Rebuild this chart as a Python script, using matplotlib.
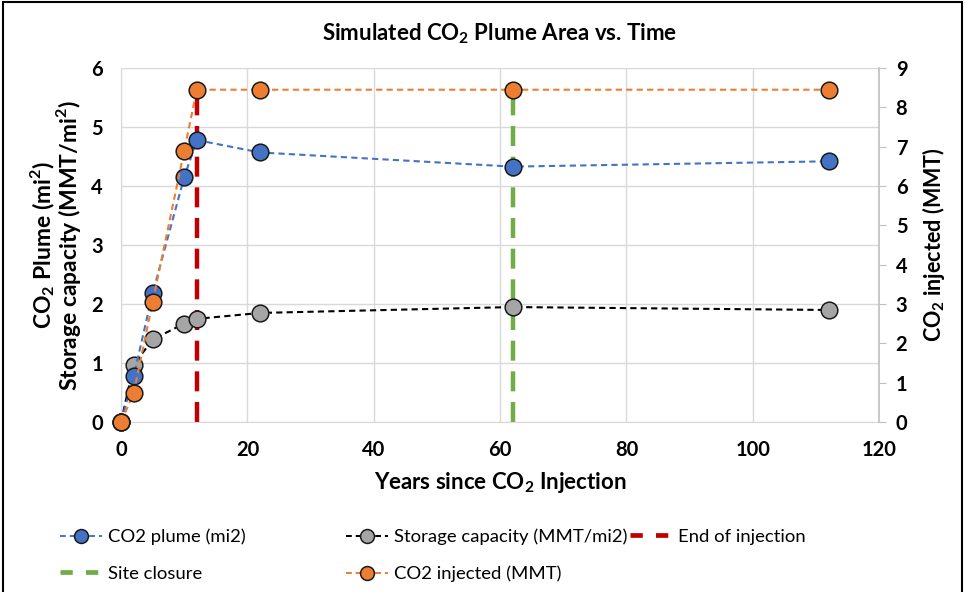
import matplotlib
matplotlib.use("Agg")
import matplotlib.pyplot as plt
from matplotlib.lines import Line2D
from matplotlib.patches import Rectangle

plt.rcParams['font.family'] = ['Lato', 'DejaVu Sans']
plt.rcParams['mathtext.fontset'] = 'custom'
plt.rcParams['mathtext.rm'] = 'Lato'
plt.rcParams['mathtext.bf'] = 'Lato:bold'

# data
years = [0, 2, 5, 10, 12, 22, 62, 112]
plume_mi2 = [0, 0.78, 2.18, 4.15, 4.78, 4.57, 4.33, 4.42]
storage_capacity = [0, 0.97, 1.40, 1.67, 1.75, 1.85, 1.95, 1.90]
co2_injected = [0, 0.74, 3.05, 6.90, 8.45, 8.45, 8.45, 8.45]
end_of_injection = 12
site_closure = 62

left_ticks = [0, 1, 2, 3, 4, 5, 6]
right_ticks = [0, 1, 2, 3, 4, 5, 6, 7, 8, 9]
x_ticks = [0, 20, 40, 60, 80, 100, 120]

fig = plt.figure(figsize=(9.66, 5.92), dpi=100)
ax = fig.add_axes([0.1253, 0.287, 0.7847, 0.598])
ax2 = ax.twinx()

grid_c = '#d9d9d9'
ax.set_xlim(0, 120)
ax.set_ylim(0, 6)
ax2.set_ylim(0, 9)
ax.set_xticks(x_ticks)
ax.set_yticks(left_ticks)
ax2.set_yticks(right_ticks)
ax.grid(True, color=grid_c, lw=1)
ax.set_axisbelow(True)

ax.spines['top'].set_visible(False)
ax2.spines['top'].set_visible(False)
for s in ['left', 'bottom']:
    ax.spines[s].set_color(grid_c)
    ax2.spines[s].set_visible(False)
ax.spines['right'].set_visible(False)
ax2.spines['right'].set_color('#bfbfbf')
ax2.spines['right'].set_linewidth(1.2)

ax.tick_params(axis='x', length=0, labelsize=14.5, pad=13)
ax.tick_params(axis='y', length=0, labelsize=14.5, pad=13)
ax2.tick_params(axis='y', length=5, color='#bfbfbf', labelsize=14.5, pad=7)
for lab in ax.get_xticklabels() + ax.get_yticklabels() + ax2.get_yticklabels():
    lab.set_fontweight('bold')

mk = dict(marker='o', markersize=12, markeredgecolor='#1a1a1a', markeredgewidth=1.1)

# vertical markers, drawn on the left axis scaled to the injected total
scale = ax.get_ylim()[1] / ax2.get_ylim()[1]
top = max(co2_injected) * scale
ax.plot([end_of_injection, end_of_injection], [0, top], color='#c00000', lw=3.2,
        dashes=(4.5, 2.4), zorder=2)
ax.plot([site_closure, site_closure], [0, top], color='#70ad47', lw=3.2,
        dashes=(4.5, 2.4), zorder=2)

ax.plot(years, storage_capacity, color='black', lw=1.5, dashes=(3, 2),
        markerfacecolor='#a5a5a5', zorder=3, **mk)
ax.plot(years, plume_mi2, color='#4472c4', lw=1.5, dashes=(3, 2),
        markerfacecolor='#4472c4', zorder=4, **mk)
ax2.plot(years, co2_injected, color='#ed7d31', lw=1.5, dashes=(3, 2),
         markerfacecolor='#ed7d31', clip_on=False, zorder=3, **mk)
for l in ax.lines:
    l.set_clip_on(False)

ax.set_title(r'Simulated CO$_\mathbf{2}$ Plume Area vs. Time', fontsize=16,
             fontweight='bold', pad=20)
ax.set_xlabel(r'Years since CO$_\mathbf{2}$ Injection', fontsize=16,
              fontweight='bold', labelpad=7)
ax.set_ylabel('CO$_\\mathbf{2}$ Plume (mi$^\\mathbf{2}$)\nStorage capacity (MMT/mi$^\\mathbf{2}$)',
              fontsize=16.5, fontweight='bold', labelpad=6, linespacing=0.88)
ax2.set_ylabel(r'CO$_\mathbf{2}$ injected (MMT)', fontsize=15.5, fontweight='bold',
               labelpad=9)

# legend as three columns like the original layout
lmk = dict(marker='o', markersize=10, markeredgecolor='#1a1a1a', markeredgewidth=1.1)
h_plume = Line2D([], [], color='#4472c4', lw=1.4, dashes=(3, 2), markerfacecolor='#4472c4', **lmk)
h_store = Line2D([], [], color='black', lw=1.4, dashes=(3, 2), markerfacecolor='#a5a5a5', **lmk)
h_inj = Line2D([], [], color='#ed7d31', lw=1.4, dashes=(3, 2), markerfacecolor='#ed7d31', **lmk)
h_end = Line2D([], [], color='#c00000', lw=3.4, dashes=(2.6, 2.8))
h_site = Line2D([], [], color='#70ad47', lw=3.4, dashes=(2.6, 2.8))

leg_kw = dict(frameon=False, fontsize=13.3, handlelength=2.3, handletextpad=0.3,
              labelspacing=1.12, loc='upper left', borderaxespad=0, borderpad=0)
legs = [
    ([h_plume, h_site], ['CO2 plume (mi2)', 'Site closure'], 0.062),
    ([h_store, h_inj], ['Storage capacity (MMT/mi2)', 'CO2 injected (MMT)'], 0.358),
    ([h_end], ['End of injection'], 0.652),
]
for hs, ls, x0 in legs:
    fig.legend(hs, ls, bbox_to_anchor=(x0, 0.107), **leg_kw)

fig.patches.append(Rectangle((0.003, -0.01), 0.993, 1.007, transform=fig.transFigure,
                             fill=False, edgecolor='black', lw=1.5))

fig.savefig('out.png', dpi=100, facecolor='white')
